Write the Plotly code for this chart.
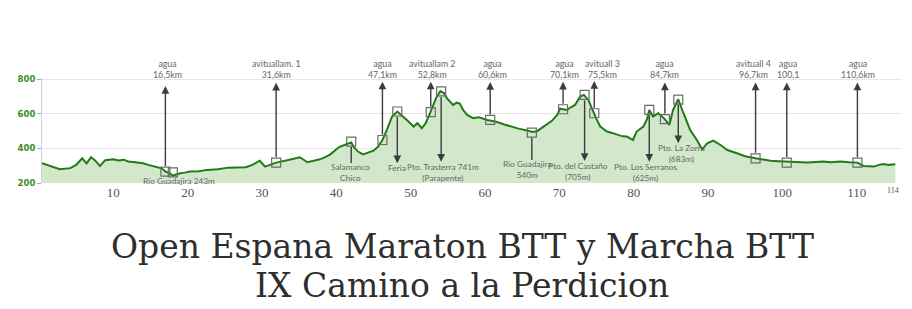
import plotly.graph_objects as go

# ---- elevation profile (km, m) ----
km = [0.4, 1.5, 2.8, 4.2, 5.0, 5.8, 6.4, 7.0, 7.5, 8.2, 8.9, 10.0, 10.7, 11.4, 12.0, 12.7,
      13.4, 14.0, 14.7, 15.3, 16.0, 16.5, 17.0, 17.5, 18.0, 18.5, 19.0, 19.6, 20.3, 21.5,
      22.6, 24.0, 25.5, 26.5, 27.8, 28.7, 29.7, 30.4, 31.0, 31.9, 33.4, 34.3, 35.1, 36.1,
      37.0, 37.8, 38.5, 39.2, 40.0, 40.5, 41.1, 41.6, 42.0, 42.3, 42.9, 43.6, 44.3, 45.0,
      45.6, 46.2, 46.8, 47.5, 48.2, 49.0, 49.7, 50.4, 50.9, 51.5, 52.0, 52.6, 53.1, 53.5,
      54.0, 54.5, 54.9, 55.3, 55.7, 56.2, 56.6, 57.1, 57.6, 58.4, 59.2, 60.3, 61.5, 62.5,
      63.4, 64.5, 65.5, 66.4, 67.0, 67.4, 68.3, 69.0, 69.7, 70.1, 70.5, 71.0, 71.6, 72.1,
      72.8, 73.3, 73.9, 74.5, 75.0, 75.5, 76.4, 77.1, 77.8, 78.5, 79.1, 79.9, 80.4, 81.3,
      81.8, 82.1, 82.6, 83.3, 84.2, 84.8, 85.3, 86.0, 86.7, 87.6, 88.5, 89.2, 89.9, 90.7,
      91.7, 92.6, 93.9, 95.0, 96.4, 97.5, 98.4, 99.5, 100.7, 102.0, 103.4, 104.5, 105.5,
      106.5, 107.8, 109.0, 110.1, 110.9, 111.5, 112.3, 113.0, 113.6, 114.3, 115.2]
elev = [314, 300, 280, 286, 305, 343, 314, 349, 332, 299, 332, 337, 330, 335, 325, 322,
        318, 314, 305, 297, 290, 285, 266, 258, 243, 250, 256, 260, 266, 268,
        276, 280, 289, 290, 291, 305, 329, 295, 305, 318, 332, 340, 349, 320,
        330, 337, 350, 366, 395, 411, 420, 430, 435, 411, 382, 366, 375, 387,
        410, 449, 507, 585, 614, 585, 556, 527, 546, 517, 545, 604, 660, 700,
        732, 720, 690, 670, 652, 665, 660, 620, 594, 575, 580, 565, 555, 540,
        527, 515, 505, 495, 500, 511, 536, 560, 594, 630, 627, 623, 640, 652,
        700, 710, 681, 614, 570, 527, 498, 490, 479, 470, 469, 449, 498, 527,
        570, 623, 585, 604, 570, 536, 623, 685, 604, 507, 449, 395, 430, 445,
        420, 391, 372, 355, 343, 335, 329, 326, 324, 320, 318, 322, 324,
        320, 324, 320, 318, 299, 297, 295, 305, 310, 305, 308]

# ---- x ticks ----
x_ticks = [10, 20, 30, 40, 50, 60, 70, 80, 90, 100, 110]
x_end_label = "114"
y_ticks = [200, 400, 600, 800]

# ---- upper annotations (agua / avituallamiento) ----
top_labels = ["agua<br>16,5km", "avituallam. 1<br>31,6km", "agua<br>47,1km",
              "avituallam 2<br>52,8km", "agua<br>60,6km", "agua<br>70,1km",
              "avituall 3<br>75,5km", "agua<br>84,7km", "avituall 4<br>96,7km",
              "agua<br>100,1", "agua<br>110,6km"]
top_km = [17.0, 31.9, 46.2, 52.7, 60.7, 70.5, 74.7, 84.2, 96.4, 100.6, 110.1]
top_elev = [266, 318, 449, 610, 565, 627, 604, 570, 343, 318, 318]
top_head = [762, 780, 787, 787, 785, 786, 790, 782, 782, 782, 782]
top_label_km = [17.3, 32.0, 46.2, 52.9, 61.0, 70.7, 75.8, 84.1, 96.1, 100.7, 110.2]
top_label_elev = 858

# ---- lower annotations (puertos / rios) ----
bot_labels = ["Rio Guadajira 243m", "Salamanco<br>Chico", "Feria",
              "Pto. Trasterra 741m<br>(Parapente)", "Rio Guadajira<br>540m",
              "Pto. del Castaño<br>(705m)", "Pto. Los Serranos<br>(625m)",
              "Pto. La Zorra<br>(683m)"]
bot_km = [18.0, 42.0, 48.2, 54.1, 66.3, 73.4, 82.1, 86.0]
bot_elev = [261, 440, 614, 730, 492, 710, 623, 683]
bot_head = [229, 316, 314, 323, 333, 327, 323, 430]
bot_has_head = [True, False, True, True, False, True, True, True]
bot_label_km = [18.8, 41.9, 48.1, 54.3, 65.7, 72.5, 81.6, 86.4]
bot_label_elev = [213, 261, 289, 261, 281, 264, 261, 368]

title1 = "Open Espana Maraton BTT y Marcha BTT"
title2 = "IX Camino a la Perdicion"

LINE = "#1f7c15"
FILL = "#d3e7cb"
ARROW = "#3c3c3c"
LABEL = "#666666"

Y0, Y1 = 200, 808

fig = go.Figure()
fig.add_trace(go.Scatter(x=km, y=elev, mode="lines", fill="tozeroy",
                         line=dict(color=LINE, width=2), fillcolor=FILL,
                         hoverinfo="skip", showlegend=False))
fig.add_trace(go.Scatter(x=top_km + bot_km, y=top_elev + bot_elev, mode="markers",
                         marker=dict(symbol="square-open", size=9,
                                     color="#6a6a6a", line=dict(width=1.2)),
                         hoverinfo="skip", showlegend=False))

ann = []
top_font = dict(family="Lato", size=8.8, color=LABEL)
bot_font = dict(family="Lato", size=8.3, color=LABEL)
for k, e, h in zip(top_km, top_elev, top_head):
    ann.append(dict(x=k, y=h, ax=k, ay=e, xref="x", yref="y", axref="x", ayref="y",
                    text="", showarrow=True, arrowhead=2, arrowsize=1.1,
                    arrowwidth=1.4, arrowcolor=ARROW, startstandoff=4))
for t, k in zip(top_labels, top_label_km):
    ann.append(dict(x=k, y=(top_label_elev - Y0) / (Y1 - Y0), xref="x", yref="paper",
                    text=t, showarrow=False, font=top_font,
                    xanchor="center", yanchor="middle"))
for k, e, h, hh in zip(bot_km, bot_elev, bot_head, bot_has_head):
    ann.append(dict(x=k, y=h, ax=k, ay=e, xref="x", yref="y", axref="x", ayref="y",
                    text="", showarrow=True, arrowhead=2 if hh else 0, arrowsize=1.1,
                    arrowwidth=1.4, arrowcolor=ARROW, startstandoff=4))
for t, k, e in zip(bot_labels, bot_label_km, bot_label_elev):
    ann.append(dict(x=k, y=e, xref="x", yref="y", text=t, showarrow=False,
                    font=bot_font, xanchor="center", yanchor="middle"))
ann.append(dict(x=1.0, y=0, xref="paper", yref="paper", text=x_end_label,
                showarrow=False, xanchor="right", yanchor="top", yshift=-1, xshift=-1,
                font=dict(family="Liberation Serif", size=8, color="#555")))
ann.append(dict(x=0.5, y=-0.60, xref="paper", yref="paper", text=title1,
                showarrow=False, xanchor="center", yanchor="middle", xshift=-10,
                font=dict(family="DejaVu Serif", size=33, color="#2e2e2e")))
ann.append(dict(x=0.5, y=-0.975, xref="paper", yref="paper", text=title2,
                showarrow=False, xanchor="center", yanchor="middle", xshift=-10,
                font=dict(family="DejaVu Serif", size=33, color="#2e2e2e")))

fig.update_layout(
    width=912, height=309,
    margin=dict(l=42, r=10, t=78, b=126, pad=0),
    paper_bgcolor="white", plot_bgcolor="white",
    annotations=ann,
    xaxis=dict(range=[0.4, 116.1], tickvals=x_ticks, showgrid=False, zeroline=False,
               showline=False, ticks="",
               tickfont=dict(family="Liberation Serif", size=13, color="#555")),
    yaxis=dict(range=[Y0, Y1], tickvals=y_ticks, showgrid=True, gridcolor="#e6e6e6",
               gridwidth=1, zeroline=False, showline=True, linecolor="#d0d0d0",
               ticks="outside", ticklen=4, tickcolor="#aaaaaa",
               tickfont=dict(family="DejaVu Sans", size=8.5, color="#3a8c1c",
                             weight="bold")),
)
fig.write_html("out.html")
